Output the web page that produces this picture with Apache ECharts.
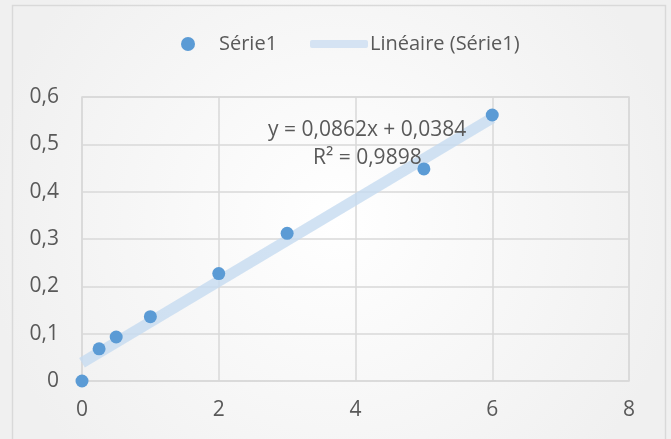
<!DOCTYPE html>
<html>
<head>
<meta charset="utf-8">
<script src="https://cdn.jsdelivr.net/npm/echarts@6/dist/echarts.min.js"></script>
<style>
  html, body { margin: 0; padding: 0; background: #fff; }
  #main { width: 671px; height: 439px; }
</style>
</head>
<body>
<div id="main"></div>
<script>
var xValues = [0, 0.25, 0.5, 1, 2, 3, 5, 6];
var yValues = [0, 0.068, 0.093, 0.136, 0.227, 0.312, 0.448, 0.562];
// linear trend endpoints (y = 0,0862x + 0,0384)
var trendX = [0, 6];
var trendY = [0.0384, 0.5556];
var equationLines = ['y = 0,0862x + 0,0384', 'R\u00b2 = 0,9898'];

var chartDom = document.getElementById('main');
var myChart = echarts.init(chartDom);
var option;

var labelFont = { color: '#595959', fontSize: 20, fontFamily: 'Open Sans' };

option = {
  backgroundColor: {
    type: 'radial', x: 0.5, y: 0.5, r: 0.8,
    colorStops: [{ offset: 0, color: '#ffffff' }, { offset: 1, color: '#f0f0f0' }]
  },
  textStyle: { fontFamily: 'Open Sans' },
  graphic: [
    {
      type: 'rect', silent: true, z: -1,
      shape: { x: 12.5, y: 5.5, width: 653, height: 450 },
      style: { fill: 'none', stroke: '#d9d9d9', lineWidth: 1.5 }
    },
    {
      type: 'text', left: 268, top: 120, z: 10,
      style: { text: equationLines[0], fill: '#595959', font: '21px "Open Sans"' }
    },
    {
      type: 'text', left: 313, top: 148, z: 10,
      style: { text: equationLines[1], fill: '#595959', font: '21px "Open Sans"' }
    }
  ],
  legend: [
    {
      data: [{ name: 'Série1', icon: 'circle' }],
      left: 176, top: 29,
      itemWidth: 14, itemHeight: 14, itemGap: 10,
      textStyle: Object.assign({ padding: [0, 0, 0, 19] }, labelFont)
    },
    {
      data: [{ name: 'Linéaire (Série1)', icon: 'roundRect' }],
      left: 305, top: 29,
      itemWidth: 58, itemHeight: 8, itemGap: 2,
      textStyle: Object.assign({ padding: [0, 0, 0, -3] }, labelFont)
    }
  ],
  grid: { left: 82, right: 42, top: 97, bottom: 58, show: true, borderColor: '#d9d9d9', borderWidth: 1.5 },
  xAxis: {
    type: 'value', min: 0, max: 8, interval: 2,
    axisLine: { show: false }, axisTick: { show: false },
    splitLine: { lineStyle: { color: '#d9d9d9', width: 1.5 } },
    axisLabel: { color: '#595959', fontSize: 21, margin: 19 }
  },
  yAxis: {
    type: 'value', min: 0, max: 0.6, interval: 0.1,
    axisLine: { show: false }, axisTick: { show: false },
    splitLine: { lineStyle: { color: '#d9d9d9', width: 1.5 } },
    axisLabel: {
      color: '#595959', fontSize: 21, margin: 23,
      formatter: function (v) { return String(Math.round(v * 10) / 10).replace('.', ','); }
    }
  },
  series: [
    {
      name: 'Linéaire (Série1)',
      type: 'line',
      data: trendX.map(function (x, i) { return [x, trendY[i]]; }),
      showSymbol: false,
      lineStyle: { color: '#c6dbf0', width: 11, opacity: 0.8 },
      itemStyle: { color: '#d5e3f3' },
      z: 1
    },
    {
      name: 'Série1',
      type: 'scatter',
      data: xValues.map(function (x, i) { return [x, yValues[i]]; }),
      symbolSize: 13,
      itemStyle: { color: '#5b9bd5', opacity: 1 },
      z: 3
    }
  ]
};

option && myChart.setOption(option);
</script>
</body>
</html>
